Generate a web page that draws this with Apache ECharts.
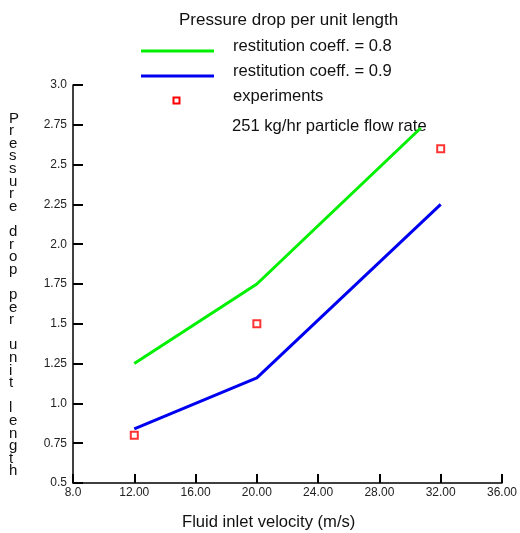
<!DOCTYPE html>
<html>
<head>
<meta charset="utf-8">
<script src="https://cdn.jsdelivr.net/npm/echarts@6/dist/echarts.min.js"></script>
<style>html,body{margin:0;padding:0;background:#fff}#c{width:520px;height:533px}</style>
</head>
<body>
<div id="c"></div>
<script>
const greenX = [12, 20, 30.7];
const greenY = [1.25, 1.75, 2.73];
const blueX = [12, 20, 32];
const blueY = [0.84, 1.16, 2.25];
const expX = [12, 20, 32];
const expY = [0.80, 1.50, 2.60];
const xTickLabels = ['8.0','12.00','16.00','20.00','24.00','28.00','32.00','36.00'];
const yTickLabels = ['0.5','0.75','1.0','1.25','1.5','1.75','2.0','2.25','2.5','2.75','3.0'];
const seriesNames = ['restitution coeff. = 0.8', 'restitution coeff. = 0.9', 'experiments'];
const titleText = 'Pressure drop per unit length';
const noteText = '251 kg/hr particle flow rate';
const xName = 'Fluid inlet velocity (m/s)';
const yName = 'Pressure drop per unit length';

const zip = (a, b) => a.map((v, i) => [v, b[i]]);
const FONT = 'Liberation Sans, Arial, sans-serif';
const GREEN = '#00f000', BLUE = '#0000f0', RED = '#ff0000';
const TXT = '#111';

const chart = echarts.init(document.getElementById('c'));
chart.setOption({
  animation: false,
  backgroundColor: '#fff',
  textStyle: { fontFamily: FONT },
  grid: { left: 73, right: 16, top: 85, bottom: 50 },
  xAxis: {
    type: 'value', min: 8, max: 36, interval: 4,
    axisLine: { lineStyle: { color: '#000', width: 1.5 } },
    axisTick: { inside: true, length: 9, lineStyle: { color: '#000', width: 2 } },
    splitLine: { show: false },
    axisLabel: {
      fontSize: 12, color: '#222', margin: 4, fontFamily: FONT,
      formatter: v => xTickLabels[Math.round((v - 8) / 4)]
    }
  },
  yAxis: {
    type: 'value', min: 0.5, max: 3.0, interval: 0.25,
    axisLine: { show: true, lineStyle: { color: '#000', width: 1.5 } },
    axisTick: { show: true, inside: true, length: 10, lineStyle: { color: '#000', width: 2 } },
    splitLine: { show: false },
    axisLabel: {
      fontSize: 12, color: '#222', margin: 6, fontFamily: FONT, padding: [0, 0, 8, 0],
      formatter: v => yTickLabels[Math.round((v - 0.5) / 0.25)]
    }
  },
  series: [
    { name: seriesNames[0], type: 'line', symbol: 'none', data: zip(greenX, greenY),
      lineStyle: { color: GREEN, width: 3 }, itemStyle: { color: GREEN } },
    { name: seriesNames[1], type: 'line', symbol: 'none', data: zip(blueX, blueY),
      lineStyle: { color: BLUE, width: 3 }, itemStyle: { color: BLUE } },
    { name: seriesNames[2], type: 'scatter', symbol: 'rect', symbolSize: 7, data: zip(expX, expY),
      itemStyle: { color: '#fff', borderColor: RED, borderWidth: 2 } }
  ],
  graphic: [
    { type: 'text', left: 179, top: 12, style: { text: titleText, font: '17px ' + FONT, fill: TXT } },
    { type: 'line', shape: { x1: 141, y1: 51, x2: 214, y2: 51 }, style: { stroke: GREEN, lineWidth: 3 } },
    { type: 'line', shape: { x1: 141, y1: 76, x2: 214, y2: 76 }, style: { stroke: BLUE, lineWidth: 3 } },
    { type: 'rect', shape: { x: 173.5, y: 97.5, width: 6, height: 6 }, style: { stroke: RED, fill: '#fff', lineWidth: 2 } },
    { type: 'text', left: 233, top: 38, style: { text: seriesNames[0], font: '16.6px ' + FONT, fill: TXT } },
    { type: 'text', left: 233, top: 63, style: { text: seriesNames[1], font: '16.6px ' + FONT, fill: TXT } },
    { type: 'text', left: 233, top: 88, style: { text: seriesNames[2], font: '16.6px ' + FONT, fill: TXT } },
    { type: 'text', left: 232, top: 118, style: { text: noteText, font: '16.6px ' + FONT, fill: TXT } },
    { type: 'text', left: 182, top: 514, style: { text: xName, font: '16.6px ' + FONT, fill: TXT } },
    { type: 'text', left: 9, top: 111, style: { text: yName.split('').join('\n'), font: '15px ' + FONT, fill: TXT, lineHeight: 12.6, align: 'center' } }
  ]
});
</script>
</body>
</html>
